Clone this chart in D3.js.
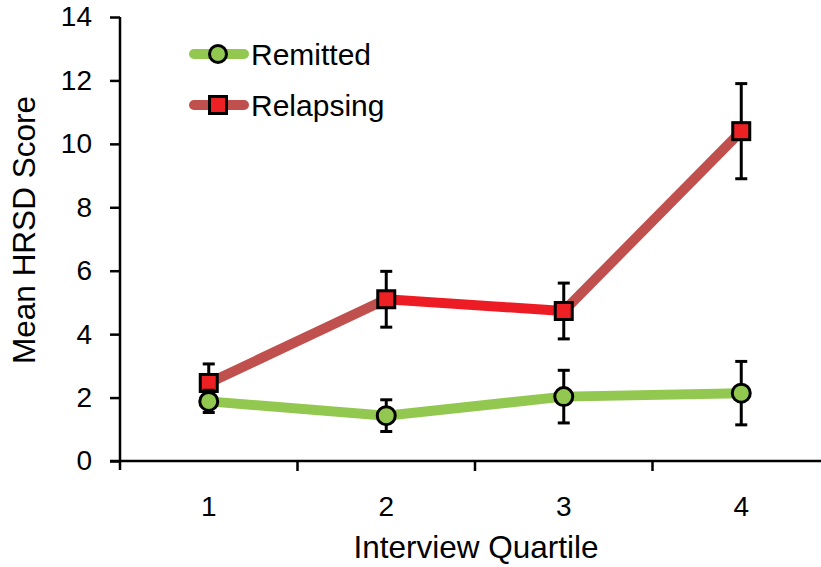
<!DOCTYPE html>
<html>
<head>
<meta charset="utf-8">
<script src="https://cdn.jsdelivr.net/npm/d3@7"></script>
<style>
  body { margin: 0; background: #fff; }
  text { font-family: "Liberation Sans", Arial, sans-serif; fill: #000; }
</style>
</head>
<body>
<div id="chart"></div>
<script>
// Data
var quartiles = ["1", "2", "3", "4"];
var remittedMean = [1.88, 1.43, 2.03, 2.14];
var remittedErr = [0.35, 0.5, 0.83, 1.0];
var relapsingMean = [2.46, 5.1, 4.73, 10.4];
var relapsingErr = [0.6, 0.88, 0.88, 1.5];
var relapsingSegColors = ["#c0504d", "#ed1c24", "#c0504d"];
var yTicks = [0, 2, 4, 6, 8, 10, 12, 14];

var svgWidth = 821;
var svgHeight = 567;
var margin = { top: 17, right: -9, bottom: 106, left: 120 };
var chartWidth = svgWidth - margin.left - margin.right;
var chartHeight = svgHeight - margin.top - margin.bottom;

var svg = d3.select("#chart")
  .append("svg")
  .attr("width", svgWidth)
  .attr("height", svgHeight);

var chartGroup = svg.append("g")
  .attr("transform", `translate(${margin.left}, ${margin.top})`);

var xScale = d3.scaleBand()
  .domain(quartiles)
  .range([0, chartWidth])
  .padding(0);

var yScale = d3.scaleLinear()
  .domain([0, 14])
  .range([chartHeight, 0]);

var cx = d => xScale(d) + xScale.bandwidth() / 2;

// Axes
var leftAxis = d3.axisLeft(yScale).tickValues(yTicks).tickSize(10).tickPadding(18);
var yAxis = chartGroup.append("g").call(leftAxis);
yAxis.select(".domain").attr("d", `M0,${chartHeight + 9}V0`).attr("stroke-width", 2.5);
yAxis.selectAll(".tick line").attr("stroke-width", 2.5);
yAxis.selectAll(".tick text").style("font-size", "28px");

var bottomAxis = d3.axisBottom(xScale).tickSize(0).tickPadding(35);
var xAxis = chartGroup.append("g")
  .attr("transform", `translate(0, ${chartHeight})`)
  .call(bottomAxis);
xAxis.select(".domain").attr("d", `M-10,0H${chartWidth}`).attr("stroke-width", 2.5);
xAxis.selectAll(".tick text").style("font-size", "28px");
// tick marks at band boundaries
xAxis.selectAll(".bandTick")
  .data(quartiles.slice(1))
  .enter()
  .append("line")
  .attr("x1", d => xScale(d))
  .attr("x2", d => xScale(d))
  .attr("y1", 0)
  .attr("y2", 10)
  .attr("stroke", "#000")
  .attr("stroke-width", 2.5);

// Axis labels
svg.append("text")
  .attr("transform", `translate(35, 230) rotate(-90)`)
  .attr("text-anchor", "middle")
  .style("font-size", "31.5px")
  .text("Mean HRSD Score");

svg.append("text")
  .attr("x", 476)
  .attr("y", 558)
  .attr("text-anchor", "middle")
  .style("font-size", "31.5px")
  .text("Interview Quartile");

var relapsing = quartiles.map((q, i) => ({ q: q, m: relapsingMean[i], e: relapsingErr[i] }));
var remitted = quartiles.map((q, i) => ({ q: q, m: remittedMean[i], e: remittedErr[i] }));

function drawErrors(data) {
  var g = chartGroup.append("g");
  data.forEach(function(d) {
    var x = cx(d.q);
    g.append("line")
      .attr("x1", x).attr("x2", x)
      .attr("y1", yScale(d.m - d.e)).attr("y2", yScale(d.m + d.e))
      .attr("stroke", "#000").attr("stroke-width", 3);
    [d.m - d.e, d.m + d.e].forEach(function(v) {
      g.append("line")
        .attr("x1", x - 6).attr("x2", x + 6)
        .attr("y1", yScale(v)).attr("y2", yScale(v))
        .attr("stroke", "#000").attr("stroke-width", 3);
    });
  });
}

// Relapsing series: line segments
chartGroup.selectAll(".relSeg")
  .data(relapsing.slice(1))
  .enter()
  .append("line")
  .attr("x1", (d, i) => cx(relapsing[i].q))
  .attr("y1", (d, i) => yScale(relapsing[i].m))
  .attr("x2", d => cx(d.q))
  .attr("y2", d => yScale(d.m))
  .attr("stroke", (d, i) => relapsingSegColors[i])
  .attr("stroke-width", 10);

drawErrors(relapsing);

chartGroup.selectAll(".relMarker")
  .data(relapsing)
  .enter()
  .append("rect")
  .attr("x", d => cx(d.q) - 8.5)
  .attr("y", d => yScale(d.m) - 8.5)
  .attr("width", 17)
  .attr("height", 17)
  .attr("fill", "#ed2024")
  .attr("stroke", "#000")
  .attr("stroke-width", 3);

// Remitted series
var line = d3.line().x(d => cx(d.q)).y(d => yScale(d.m));
chartGroup.append("path")
  .datum(remitted)
  .attr("d", line)
  .attr("fill", "none")
  .attr("stroke", "#92c850")
  .attr("stroke-width", 10);

drawErrors(remitted);

chartGroup.selectAll(".remMarker")
  .data(remitted)
  .enter()
  .append("circle")
  .attr("cx", d => cx(d.q))
  .attr("cy", d => yScale(d.m))
  .attr("r", 9)
  .attr("fill", "#92c850")
  .attr("stroke", "#000")
  .attr("stroke-width", 3);

// Legend
var legend = svg.append("g");
legend.append("line")
  .attr("x1", 194).attr("x2", 244).attr("y1", 54).attr("y2", 54)
  .attr("stroke", "#92c850").attr("stroke-width", 10).attr("stroke-linecap", "round");
legend.append("circle")
  .attr("cx", 218).attr("cy", 54).attr("r", 8.5)
  .attr("fill", "#92c850").attr("stroke", "#000").attr("stroke-width", 3);
legend.append("text")
  .attr("x", 251).attr("y", 65)
  .style("font-size", "30px")
  .text("Remitted");

legend.append("line")
  .attr("x1", 194).attr("x2", 244).attr("y1", 105).attr("y2", 105)
  .attr("stroke", "#c0504d").attr("stroke-width", 10).attr("stroke-linecap", "round");
legend.append("rect")
  .attr("x", 209.5).attr("y", 96.5).attr("width", 17).attr("height", 17)
  .attr("fill", "#ed2024").attr("stroke", "#000").attr("stroke-width", 3);
legend.append("text")
  .attr("x", 251).attr("y", 116)
  .style("font-size", "30px")
  .text("Relapsing");
</script>
</body>
</html>
